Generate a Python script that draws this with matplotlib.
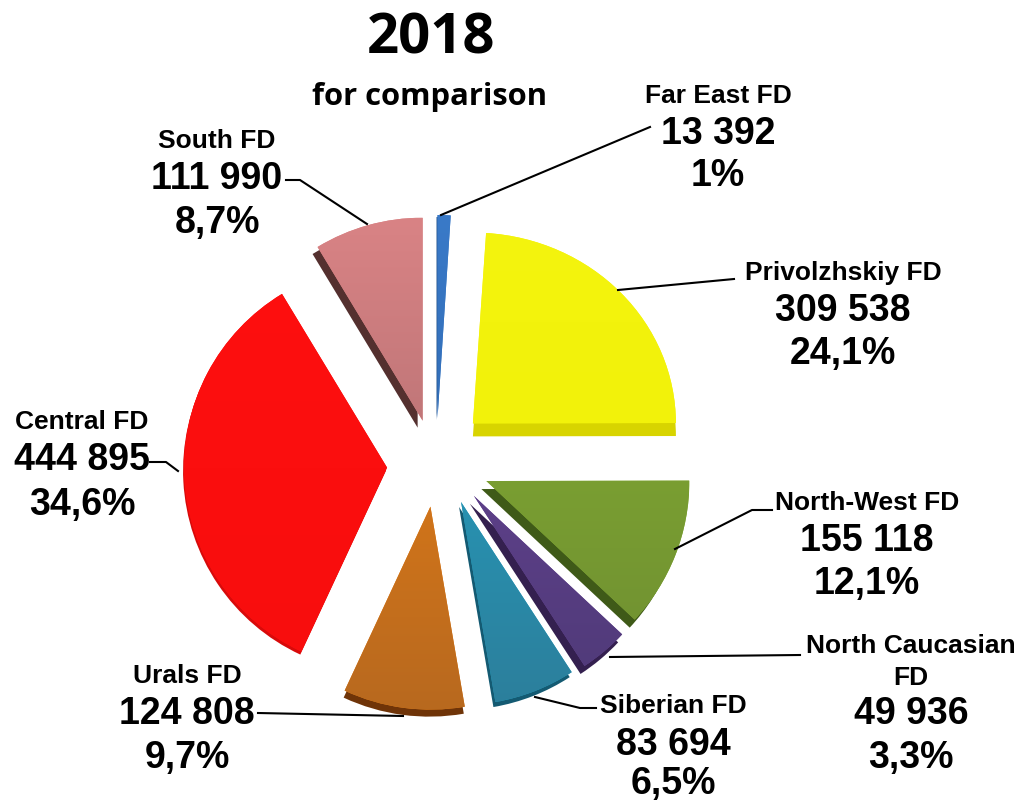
import numpy as np
import matplotlib.pyplot as plt
from matplotlib.colors import LinearSegmentedColormap, to_rgb
from matplotlib.transforms import Affine2D

# slices, clockwise from the top
names = ['Far East FD', 'Privolzhskiy FD', 'North-West FD', 'North Caucasian\nFD',
         'Siberian FD', 'Urals FD', 'Central FD', 'South FD']
values = [13392, 309538, 155118, 49936, 83694, 124808, 444895, 111990]
value_labels = ['13 392', '309 538', '155 118', '49 936', '83 694', '124 808', '444 895', '111 990']
pct_labels = ['1%', '24,1%', '12,1%', '3,3%', '6,5%', '9,7%', '34,6%', '8,7%']
explode = [47, 52, 52, 48, 44, 42, 48, 46]
top_colors = ['#3a7ac8', '#f4f40e', '#84ad30', '#6a4598', '#23a3c4', '#e87f15', '#fe0f0f', '#d98385']
bottom_colors = ['#2a62a8', '#f0f006', '#6f8f32', '#4f3a78', '#2c7f9c', '#b8691f', '#f80d0d', '#a86a6c']
side_colors = ['#1f4f8a', '#d8d400', '#3f5a18', '#34204f', '#145a72', '#6f3408', '#d80a0a', '#54302f']

# small hand nudges of the exploded slices, the original has some perspective
nudge = [(1, 0), (0, 6), (3, 3), (8, 6), (10, 4), (1, 0), (0, 0), (0, 0)]
side_shift = [(-1, -2), (0, -13), (-5, -8), (-4, -8), (-2, -5), (-1, -7), (-1, -3), (-5, -7)]

W, H = 1030, 801
fig = plt.figure(figsize=(W / 100, H / 100), dpi=100)
ax = fig.add_axes([0, 0, 1, 1])
center = (435, H - 465)
R = 203


def py(y):
    # picture pixels count from the top
    return H - y


side, _ = ax.pie(values, explode=explode, colors=side_colors, startangle=90, counterclock=False,
                 center=center, radius=R, frame=False)
wedges, _ = ax.pie(values, explode=explode, colors=top_colors, startangle=90, counterclock=False,
                   center=center, radius=R, frame=False)

for s, w, n, d in zip(side, wedges, nudge, side_shift):
    x0, y0 = w.center
    w.set_center((x0 + n[0], y0 + n[1]))
    s.set_center((x0 + n[0] + d[0], y0 + n[1] + d[1]))

# the yellow slice looks flatter than the others
for p in (side[1], wedges[1]):
    cx, cy = p.center
    p.set_transform(Affine2D().translate(-cx, -cy).scale(1, 0.94).translate(cx, cy) + ax.transData)

ax.set_xlim(0, W)
ax.set_ylim(0, H)
ax.set_aspect('equal')

# vertical gradient on each slice
for w, c0, c1 in zip(wedges, top_colors, bottom_colors):
    cm = LinearSegmentedColormap.from_list('g', [to_rgb(c1), to_rgb(c0)])
    grad = np.linspace(0, 1, 256).reshape(-1, 1)
    cx, cy = w.center
    im = ax.imshow(grad, cmap=cm, origin='lower', aspect='auto', zorder=w.get_zorder() + 1,
                   extent=[cx - R, cx + R, cy - R, cy + R])
    im.set_clip_path(w)

ax.set_xlim(0, W)
ax.set_ylim(0, H)
ax.set_aspect('equal')
ax.axis('off')

# leader lines
leaders = [
    ([441, 650], [215, 127]),
    ([618, 734], [290, 279]),
    ([675, 752, 772], [549, 510, 510]),
    ([610, 800], [657, 655]),
    ([535, 580, 596], [697, 708, 708]),
    ([403, 258], [716, 713]),
    ([178, 166, 150], [471, 462, 462]),
    ([367, 300, 286], [224, 180, 180]),
]
for xs, ys in leaders:
    ax.plot(xs, [py(v) for v in ys], color='black', lw=1.5, zorder=20)

sans = 'Liberation Sans'
# name, value and percent centres in picture pixels
label_pos = [
    (718, 96, 134, 176),
    (843, 273, 311, 354),
    (867, 503, 541, 584),
    (911, 0, 714, 758),
    (673, 706, 745, 784),
    (187, 676, 714, 758),
    (82, 422, 460, 505),
    (217, 141, 179, 223),
]
for name, val, pct, (cx, y0, y1, y2) in zip(names, value_labels, pct_labels, label_pos):
    if '\n' in name:
        ax.text(cx, py(662), name, ha='center', va='center', fontsize=19, fontweight='bold',
                family=sans, linespacing=1.4, zorder=21)
    else:
        ax.text(cx, py(y0), name, ha='center', va='center', fontsize=19, fontweight='bold',
                family=sans, zorder=21)
    ax.text(cx, py(y1), val, ha='center', va='center', fontsize=27, fontweight='bold',
            family=sans, zorder=21)
    ax.text(cx, py(y2), pct, ha='center', va='center', fontsize=27, fontweight='bold',
            family=sans, zorder=21)

ax.text(431, py(39), '2018', ha='center', va='center', fontsize=40.5, fontweight='bold', family='Open Sans')
ax.text(430, py(97), 'for comparison', ha='center', va='center', fontsize=22.3, fontweight='bold', family='Open Sans')

fig.savefig('out.png', dpi=100)
